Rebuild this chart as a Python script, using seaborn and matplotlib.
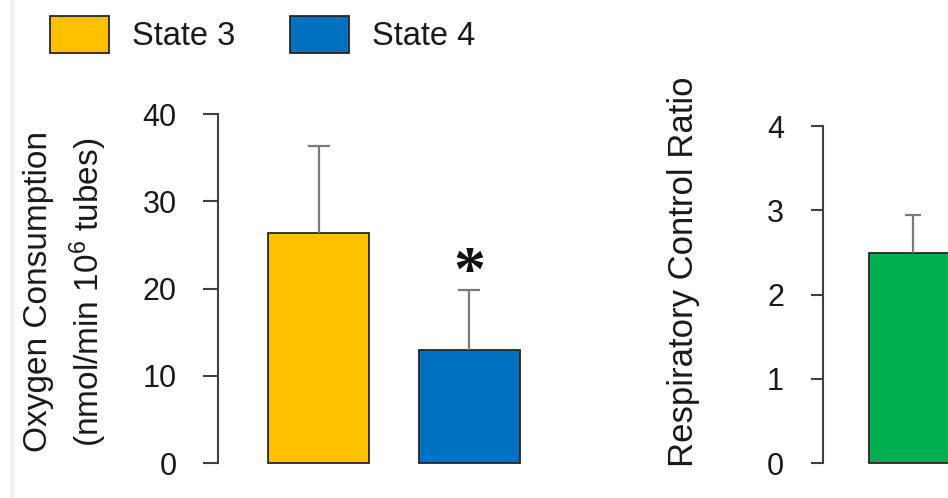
import matplotlib
matplotlib.use("Agg")
import matplotlib.pyplot as plt
from matplotlib.patches import Patch
import pandas as pd
import seaborn as sns

# Mitochondrial respiration summary (mean and SD)
states = ["State 3", "State 4"]
oxygen_mean = [26.4, 12.9]
oxygen_sd = [9.9, 6.9]
state_colors = ["#FFC000", "#0070C0"]

rcr_label = ["RCR"]
rcr_mean = [2.49]
rcr_sd = [0.45]
rcr_color = "#00B050"

oxygen_ticks = [0, 10, 20, 30, 40]
rcr_ticks = [0, 1, 2, 3, 4]

sns.set_theme(style="white")
plt.rcParams["font.family"] = ["Liberation Sans", "DejaVu Sans"]
plt.rcParams["mathtext.fontset"] = "custom"
plt.rcParams["mathtext.rm"] = "Liberation Sans"
plt.rcParams["mathtext.it"] = "Liberation Sans:italic"

AX_COLOR = "#404040"
EDGE = "#262626"
ERR = "#7a7a7a"

W, H = 948, 498
fig = plt.figure(figsize=(W / 100, H / 100), dpi=100)
fig.patch.set_facecolor("white")


def px_axes(left, top, right, bottom):
    return fig.add_axes([left / W, 1 - bottom / H, (right - left) / W, (bottom - top) / H])


def style_axis(ax, ticks, tick_len, pad):
    for side in ("top", "right", "bottom"):
        ax.spines[side].set_visible(False)
    ax.spines["left"].set_color(AX_COLOR)
    ax.spines["left"].set_linewidth(1.5)
    ax.set_yticks(ticks)
    ax.set_yticklabels([str(t) for t in ticks])
    ax.tick_params(axis="y", left=True, direction="out", length=tick_len, width=1.5,
                   color=AX_COLOR, pad=pad, labelsize=22, labelcolor="#1a1a1a")
    ax.tick_params(axis="x", bottom=False, labelbottom=False)
    ax.set_xlabel("")
    ax.grid(False)
    ax.set_facecolor("none")


def upper_errorbars(ax, xs, means, sds, cap):
    _, caps, _ = ax.errorbar(xs, means, yerr=[[0] * len(xs), sds], fmt="none",
                             ecolor=ERR, elinewidth=1.6, capsize=cap, capthick=1.6,
                             zorder=1, clip_on=False)
    # only the upper whisker is drawn
    caps[0].set_visible(False)


# Left panel: oxygen consumption by respiratory state
df_ox = pd.DataFrame({"state": states, "value": oxygen_mean})
ax1 = px_axes(218, 114, 570, 463)
sns.barplot(data=df_ox, x="state", y="value", hue="state", palette=state_colors,
            dodge=False, width=0.67, edgecolor=EDGE, linewidth=1.3, saturation=1,
            errorbar=None, legend=False, ax=ax1)
for bar in ax1.patches:
    bar.set_clip_on(False)
upper_errorbars(ax1, list(range(len(states))), oxygen_mean, oxygen_sd, 8)
ax1.set_xlim(-0.666, 1.666)
ax1.set_ylim(0, 40)
style_axis(ax1, oxygen_ticks, 10.8, 19)
ax1.set_ylabel("Oxygen Consumption\n(nmol/min 10$^{6}$ tubes)", fontsize=24,
               color="#1a1a1a", linespacing=1.45)
ax1.yaxis.label.set_va("center")
ax1.yaxis.set_label_coords((66 - 218) / 352, 0.49)
ax1.annotate("*", xy=(1, oxygen_mean[1] + oxygen_sd[1]), xytext=(0, 0),
             textcoords="offset points", ha="center", va="baseline",
             fontsize=46, fontweight="bold", color="#111111",
             family=["Liberation Serif", "DejaVu Serif"])

# Right panel: respiratory control ratio
df_rcr = pd.DataFrame({"group": rcr_label, "value": rcr_mean})
ax2 = px_axes(823, 126, 948, 463)
sns.barplot(data=df_rcr, x="group", y="value", color=rcr_color, saturation=1,
            width=0.58, edgecolor=EDGE, linewidth=1.3, errorbar=None, ax=ax2)
for bar in ax2.patches:
    bar.set_clip_on(False)
upper_errorbars(ax2, [0], rcr_mean, rcr_sd, 6)
ax2.set_xlim(-0.596, 0.232)
ax2.set_ylim(0, 4)
style_axis(ax2, rcr_ticks, 8.6, 19.5)
ax2.set_ylabel("Respiratory Control Ratio", fontsize=25, color="#1a1a1a")
ax2.yaxis.label.set_va("center")
ax2.yaxis.set_label_coords((683 - 823) / 125, 0.567)

handles = [Patch(facecolor=c, edgecolor=EDGE, linewidth=1.3) for c in state_colors]
fig.legend(handles, states, loc="upper left", bbox_to_anchor=(50 / W, 1 - 16 / H),
           ncol=2, frameon=False, fontsize=23.5, handlelength=1.8, handleheight=1.35,
           handletextpad=0.7, columnspacing=1.7, borderpad=0, borderaxespad=0,
           labelcolor="#1a1a1a")

# faint strip along the left margin
fig.add_artist(plt.Line2D([12 / W, 12 / W], [0, 1], transform=fig.transFigure,
                          color="#f1f1f1", linewidth=3.5))

fig.savefig("out.png", dpi=100, facecolor="white")
